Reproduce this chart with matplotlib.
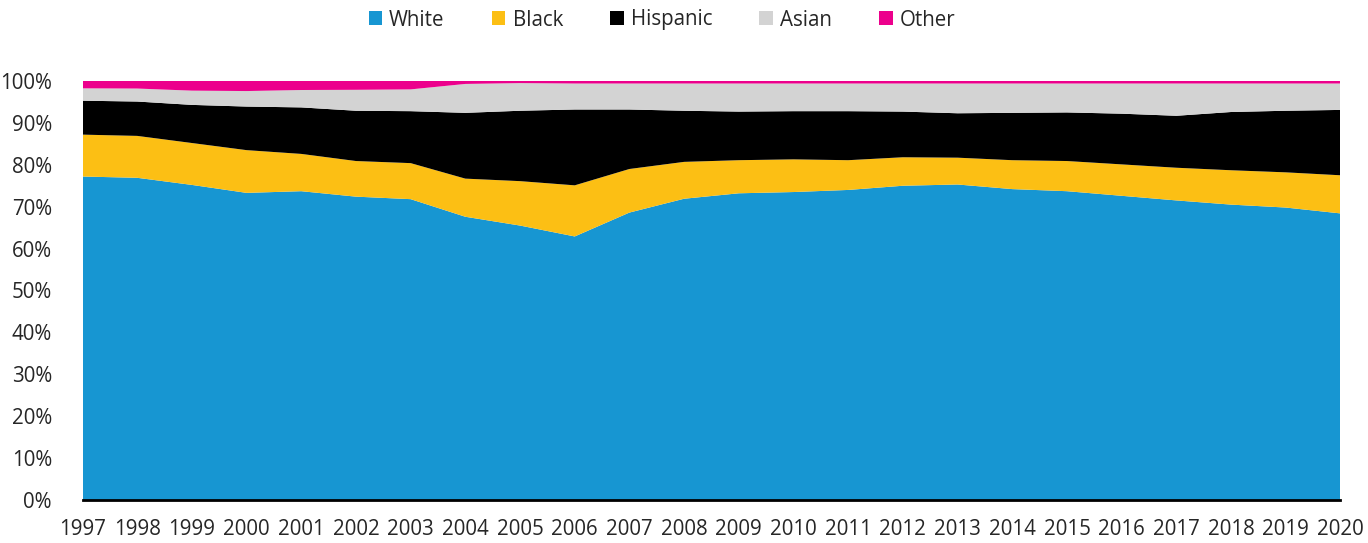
import matplotlib
matplotlib.use("Agg")
import matplotlib.pyplot as plt
from matplotlib.patches import Patch
import numpy as np

years = list(range(1997, 2021))
white = [77.2, 76.9, 75.2, 73.3, 73.7, 72.4, 71.8, 67.6, 65.5, 62.9, 68.6, 71.9,
         73.2, 73.5, 74.0, 75.0, 75.3, 74.2, 73.7, 72.6, 71.5, 70.5, 69.8, 68.4]
black_top = [87.2, 86.9, 85.2, 83.5, 82.6, 80.9, 80.4, 76.7, 76.1, 75.1, 79.0, 80.7,
             81.1, 81.3, 81.1, 81.8, 81.7, 81.1, 80.9, 80.1, 79.3, 78.7, 78.2, 77.5]
hisp_top = [95.3, 95.1, 94.3, 93.9, 93.7, 92.9, 92.8, 92.4, 92.9, 93.2, 93.2, 92.9,
            92.7, 92.8, 92.8, 92.7, 92.3, 92.4, 92.5, 92.2, 91.7, 92.6, 92.9, 93.1]
asian_top = [98.25, 98.2, 97.7, 97.6, 97.85, 97.9, 98.0, 99.3, 99.5, 99.4, 99.4, 99.4,
             99.4, 99.4, 99.4, 99.4, 99.4, 99.4, 99.4, 99.4, 99.4, 99.4, 99.4, 99.4]

series_names = ["White", "Black", "Hispanic", "Asian", "Other"]
colors = ["#1796D2", "#FCBF14", "#000000", "#D3D3D3", "#EC008C"]

w = np.array(white)
b = np.array(black_top) - w
h = np.array(hisp_top) - np.array(black_top)
a = np.array(asian_top) - np.array(hisp_top)
o = 100 - np.array(asian_top)

plt.rcParams['font.family'] = ['Open Sans', 'DejaVu Sans']

fig = plt.figure(figsize=(13.68, 5.43), dpi=100)
ax = fig.add_axes([82.5/1368, 1 - 500/543, (1340.4 - 82.5)/1368, (500 - 81)/543])
ax.stackplot(years, w, b, h, a, o, colors=colors, linewidth=0)
ax.set_xlim(1997, 2020)
ax.set_ylim(0, 100)
ax.set_yticks(range(0, 101, 10))
ax.set_yticklabels([f"{v}%" for v in range(0, 101, 10)])
ax.set_xticks(years)
ax.set_xticklabels([str(y) for y in years])
for s in ["left", "right", "top"]:
    ax.spines[s].set_visible(False)
ax.spines["bottom"].set_linewidth(2)
ax.spines["bottom"].set_color("black")
ax.spines["bottom"].set_zorder(5)
ax.tick_params(axis="both", length=0, labelsize=14.8, colors="#262626")
ax.tick_params(axis="y", pad=22)
ax.tick_params(axis="x", pad=14)

handles = [Patch(facecolor=c, edgecolor="none") for c in colors]
fig.legend(handles, series_names, loc="center", bbox_to_anchor=(662/1368, 1 - 20/543),
           ncol=5, frameon=False, fontsize=14.8, handlelength=0.65, handleheight=0.65,
           handletextpad=0.35, columnspacing=2.3, labelcolor="#262626")

fig.savefig("out.png", dpi=100)
